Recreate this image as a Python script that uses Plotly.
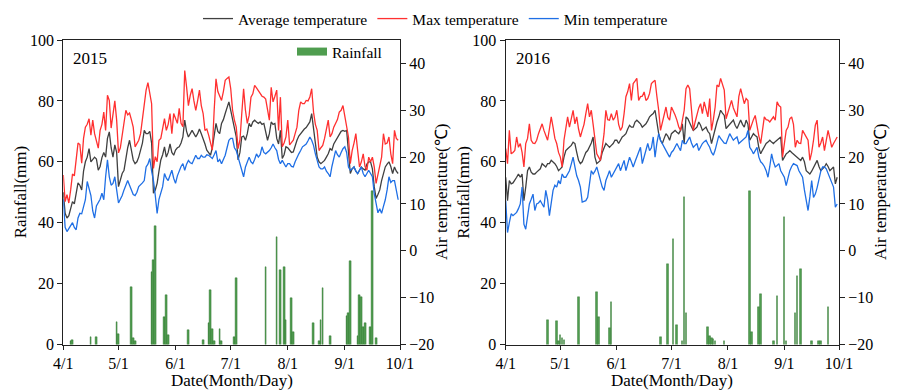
import plotly.graph_objects as go

W, H = 898, 392

# ---------------- data ----------------
month_ticks = [0, 30, 61, 91, 122, 153, 183]
month_labels = ["4/1", "5/1", "6/1", "7/1", "8/1", "9/1", "10/1"]

max_2015 = [16.2, 10.5, 12, 10.2, 13, 16.4, 16, 20, 23, 22.7,
            18.7, 24, 26.4, 27, 28.2, 24.7, 27.9, 25, 23.6, 21.9,
            25.7, 27, 29.6, 25.7, 33.2, 32.1, 26.2, 29, 32, 27.9,
            20.9, 22, 25, 28, 30, 29, 29.4, 28, 26.4, 22.2,
            23, 23.6, 25, 27.9, 31, 34.3, 35.9, 34, 31.4, 17.6,
            20.1, 19, 23.6, 24, 26, 28.2, 25.7, 27, 29.3, 25,
            29.3, 28, 27.2, 30.4, 27.2, 26.5, 38.5, 35, 31, 33.2,
            34.6, 32, 30, 32, 34.3, 31, 29.3, 25.7, 26, 24.7,
            23, 21.5, 30, 36.7, 34, 32.8, 32.1, 34, 36.4, 36.8,
            37.1, 34.6, 30, 27.9, 26.4, 21.8, 23.6, 29.3, 34.6, 30,
            27.2, 28.9, 32.8, 33.5, 35.3, 34.8, 34.3, 33.6, 33, 32.8,
            32.4, 30, 27.9, 34.9, 31.8, 33, 34.3, 25.7, 32.8, 22.2,
            23, 24.3, 27.9, 22.6, 23, 23.6, 25, 26.4, 30, 31.8,
            31.4, 31.4, 32.1, 32, 32.8, 34.6, 29.6, 27, 25.7, 21.4,
            22, 22.5, 24, 25.7, 27.9, 24.3, 25, 26.4, 27.2, 28,
            29.6, 30, 31, 28.6, 26, 24.3, 18.6, 21.4, 23, 25,
            21.4, 17.9, 19, 20.7, 18, 17.2, 20, 19, 20, 17.9,
            14.4, 16.5, 18, 20, 25, 22.8, 23, 24.3, 20.7, 18.6,
            25.7, 24, 23.6]

avg_2015 = [12.5, 8, 7, 7.5, 9, 10.5, 10, 12, 14.5, 14,
            13, 17, 19, 20, 21.8, 19, 19.4, 20, 19.6, 17.2,
            18, 19.9, 21, 20, 24, 25.4, 22, 20, 22.6, 21,
            13.7, 15, 16.5, 17.2, 20, 22, 23.6, 21, 19.4, 18.6,
            19, 20, 21.5, 23, 25.7, 25, 25, 25.5, 23, 12.3,
            13, 14.4, 17, 19.4, 20.5, 22.2, 20, 21, 22.8, 21,
            20.4, 21.5, 22, 22.2, 23, 24.3, 27.9, 25.5, 24.3, 25,
            25.7, 25, 24.3, 25, 26, 25, 24, 22.8, 21.5, 21,
            20.4, 22, 25, 27.2, 25.5, 25, 27.2, 28, 29.3, 30.5,
            31.8, 30, 28.2, 26, 24.3, 19.4, 21, 24.3, 24.5, 23.6,
            25, 27.2, 26.5, 27.5, 27.9, 27.5, 27.2, 27.5, 27, 27.2,
            25.5, 23.6, 25, 27.5, 27, 27.2, 24, 22.8, 25.7, 19.7,
            20.5, 22.2, 22, 21.4, 21, 21.1, 22.5, 23.6, 24.5, 25,
            25.7, 26, 26.3, 26.8, 27.5, 29.3, 25.7, 23, 20, 19,
            18.6, 19, 19.3, 20, 20.7, 21.8, 21.5, 22.8, 23.5, 24.3,
            25, 25.5, 25.7, 25.5, 25.7, 21.4, 16.5, 17.5, 17.9, 17,
            16.5, 17.2, 17.9, 17.5, 17.2, 18.5, 19, 19, 17.5, 13.7,
            11.2, 12, 13, 15, 16.5, 17.9, 18.5, 19, 18, 16.5,
            17.9, 17, 16.5]

min_2015 = [11, 5, 4.1, 4.8, 5.5, 6, 5, 4.5, 7, 8,
            7.9, 9.5, 10.9, 14.8, 13, 11.8, 8.5, 7, 9.6, 10.2,
            11, 12.3, 10.9, 15.8, 19.4, 15.8, 14, 14.4, 15.8, 13,
            10.2, 11, 11.8, 13, 14, 15, 14, 13, 12, 11.8,
            12.5, 13.7, 14, 14.5, 15, 17.9, 18.5, 19.7, 17, 15,
            11.8, 8, 11, 12.5, 13.7, 16.5, 15.5, 15, 16, 17.2,
            15.5, 14.4, 16, 17.2, 18, 18.6, 17.2, 18.5, 19.3, 18.8,
            18.6, 19.5, 20.4, 19.7, 19.7, 20.4, 20, 20, 20.5, 20.4,
            20, 19.7, 20.5, 21.4, 19, 19.5, 18.6, 19.5, 20.4, 22,
            23.6, 24, 24, 22, 21.4, 20, 18.6, 17.2, 15.8, 17.9,
            19, 20, 19, 18.6, 19.5, 20.7, 20, 20.5, 22.2, 21,
            20.7, 21, 21.4, 22, 22.8, 22, 21.4, 19.5, 18.6, 19.3,
            18.5, 17.9, 18.6, 18.6, 18, 17.9, 19, 20, 20.7, 21.4,
            22.2, 22.5, 22.8, 23.5, 24.3, 23.6, 22.5, 20.7, 19, 17.9,
            17.5, 17.5, 17.9, 17, 16.5, 15.8, 18, 20, 21.4, 20.5,
            20, 21, 21.8, 22.2, 21, 17.9, 17.2, 17.5, 17.9, 17,
            16.5, 17.2, 17.9, 16.5, 15.8, 16.5, 17.2, 16.5, 15.8, 12.2,
            10.2, 8.1, 9, 8, 9.5, 10.9, 13, 15.8, 14.6, 15,
            15, 13, 10.9]

max_2016 = [21.8, 18.6, 25.7, 20.7, 21, 21.4, 24.3, 22.1, 22.9, 21,
            17.9, 22.9, 24, 27.1, 23.6, 23, 22.9, 23.6, 25, 26,
            27.1, 25.7, 24.5, 23.6, 26, 28.6, 26.4, 24, 22.9, 21,
            20, 17.9, 23.6, 26, 28.6, 26.4, 28, 30, 27.1, 28.6,
            26, 24.3, 25.7, 27, 29.3, 31.4, 28.6, 30, 27, 24.3,
            20.7, 20, 19.3, 22, 25, 30, 28, 27.9, 29.3, 27.9,
            28.5, 30, 27, 25.7, 26.4, 29.3, 32.9, 34, 35.7, 32.1,
            35.7, 36.2, 36.8, 32.1, 32.9, 33, 33.9, 32.1, 32.5, 33.6,
            35.7, 36.1, 36.4, 33, 30, 25.7, 27.5, 29.3, 30.7, 28.5,
            27.9, 30.7, 30, 29, 27.9, 26.5, 25.7, 28, 30, 34.6,
            35.4, 34.6, 29.3, 25.7, 27.5, 29.3, 30.5, 31.4, 29.3, 31.8,
            30, 28.6, 32.5, 25.7, 28, 30.7, 35.4, 35, 36.8, 35.5,
            34.3, 28.2, 29.5, 30.7, 32.1, 30.5, 29.3, 28.6, 32.9, 34.6,
            33, 31.4, 32.5, 32.1, 25.7, 27.1, 28, 28.9, 26.4, 24.5,
            22.9, 25.7, 28.6, 28, 27.9, 27.5, 28, 28.6, 27.9, 31.8,
            31, 30.7, 20, 23, 25.7, 26.4, 28.2, 28.6, 27, 22.1,
            23.6, 23, 22.9, 25.7, 25, 24, 23.6, 19.3, 21, 23.6,
            26.8, 27.9, 22.1, 23, 24.3, 21.4, 23.6, 25.7, 24, 22.1,
            22.9, 23.5, 24.3]

avg_2016 = [15.7, 10.7, 15, 14.3, 14.5, 15, 15.7, 16.4, 15.7, 16.4,
            10.7, 13.6, 17.1, 17.9, 16.8, 16.4, 16.4, 16.8, 17.1, 17.5,
            18.6, 18.2, 17.9, 18.6, 18.6, 19.3, 19, 18.6, 18, 17.1,
            17.5, 17.9, 20, 21.4, 21.8, 22.1, 22.5, 23.2, 22.9, 21,
            19.3, 18.6, 19, 20, 21, 21.4, 22.1, 23, 24.3, 20,
            18.6, 19, 19.3, 21, 22.1, 22.9, 22.5, 22.1, 22.5, 22.9,
            23.6, 23.6, 22.9, 23.5, 24.3, 24.6, 25, 26, 26.8, 26.4,
            26.4, 27.5, 27.9, 27.5, 27.1, 26.4, 26.8, 27.1, 27.8, 28.6,
            29, 29.3, 30, 27.1, 25, 23.6, 22.9, 24, 25, 24.5,
            23.6, 25, 25.3, 25.7, 25.3, 25, 25.7, 27.1, 22.9, 28.6,
            28.2, 27.5, 26.5, 25.7, 26, 26.4, 27.5, 26.8, 25.7, 26,
            26.4, 25.5, 25, 22.9, 24.5, 25.7, 27.5, 28.6, 30, 29.4,
            28.9, 26.1, 26.5, 27.1, 27.5, 27.9, 26.8, 26.1, 27, 27.9,
            27, 26.4, 27.9, 27, 23.6, 24.5, 25, 24.6, 24.3, 22,
            20.7, 21.5, 22.1, 22.9, 23.2, 23.6, 23.2, 22.9, 23.3, 23.6,
            24, 24.3, 19.3, 20, 20.7, 21, 21.4, 21, 20.7, 20.3,
            20, 19.6, 19.3, 20, 19, 17.1, 16.8, 16.4, 17, 17.9,
            18.5, 19.3, 18, 17.1, 17.5, 17.9, 18.6, 18, 17.1, 17.5,
            17.9, 14.3, 15.7]

min_2016 = [10.7, 3.9, 6, 7.9, 7.5, 7.8, 8.2, 9, 10, 13.6,
            5.7, 4.6, 7, 10, 11, 12.1, 8.6, 10, 10.2, 10.7,
            10, 9.3, 12.9, 11, 7.5, 10, 12.9, 14, 13.6, 15,
            14.3, 16.4, 15.7, 15.7, 16.5, 17.1, 18.5, 20, 17.9, 16,
            15, 13.6, 10.4, 10.5, 10.7, 11.4, 14, 17.1, 16.4, 17,
            17.9, 16.4, 15, 13.6, 12.9, 15, 16, 17.1, 15.7, 16.5,
            17.1, 18, 18.6, 17.1, 18, 19.3, 17.1, 18.5, 20, 19,
            17.9, 19, 20, 21, 22.1, 18.6, 20, 21.5, 22.9, 21.4,
            22, 24.3, 20, 23, 25, 23.6, 22.8, 22.1, 21.4, 20.7,
            20, 21, 21.4, 22.2, 22.9, 22.1, 21.4, 23.6, 22.9, 22.9,
            23.5, 24.3, 23, 22.1, 22.5, 22.9, 21.4, 22.2, 22.9, 23.3,
            23.6, 22.8, 22.1, 21, 20.4, 21.5, 22.9, 24.6, 24, 23.6,
            23, 22.9, 24, 25, 24.3, 23.6, 24, 24.3, 22.9, 23.2,
            23.5, 24, 24.3, 25.7, 22.1, 21.5, 20.7, 21.4, 22.1, 20,
            19, 18.6, 18, 17.1, 15.7, 18, 20.7, 19, 17.9, 18.2,
            18.6, 17.1, 16.5, 15.7, 13.9, 15.5, 17.1, 18, 18.6, 18.4,
            18.2, 17.1, 16.5, 15.7, 13, 10.7, 8.6, 11.5, 15, 11.4,
            12.1, 13.5, 15.7, 17, 17.9, 17.9, 17.5, 16.5, 15.7, 14.5,
            13.6, 9.3, 10]

rain_days_2015 = [4, 5, 15, 18, 29, 30, 37, 38, 39, 48, 49, 50, 55, 56, 57, 68, 76,
                  79, 80, 81, 82, 85, 86, 93, 94, 110, 116, 118, 120, 121, 124, 125,
                  136, 139, 140, 141, 145, 154, 155, 156, 160, 161, 162, 163, 164,
                  167, 168, 170]
rain_mm_2015 = [1.0, 1.5, 2.5, 2.5, 7.3, 3.3, 19, 2, 1, 23.7, 27.9, 39, 8.9, 16.2, 3, 4.7, 1.5,
                7.1, 18, 5.1, 1, 5.2, 1, 2.5, 22, 25.5, 35.3, 24.4, 25.5, 7.9, 15.3, 4.2,
                7.1, 1, 7.9, 18.6, 2.8, 9.3, 10.4, 27.5, 2.7, 16.4, 15.7, 5.9, 6.9,
                5.7, 50.5, 2]

rain_days_2016 = [23, 28, 29, 30, 31, 32, 40, 50, 51, 57, 58, 85, 89, 92, 94, 97, 98, 99,
                  111, 112, 113, 114, 115, 120, 134, 135, 139, 140, 147, 149, 153, 154,
                  159, 160, 162, 168, 172, 173, 177]
rain_mm_2016 = [8.2, 7.6, 1, 3.1, 2, 1.5, 15.6, 17.4, 8.9, 5.4, 14, 2.5, 26.4, 34.6, 6.4, 1, 48.5, 10.3,
                5.6, 2.7, 2.3, 1.7, 1, 1.3, 50.3, 4.2, 12.3, 16.5, 1.3, 16, 41.8, 1,
                10.2, 22.6, 24.8, 1.3, 1, 1, 12.3]

# ---------------- styling ----------------
FONT = "Liberation Serif"
C_AVG, C_MAX, C_MIN = "#404040", "#ff3030", "#1f6fe5"
C_RAIN, C_RAIN_EDGE = "#4f9d4f", "#2b6e2b"
AXC = "#222222"


def px_x(p):
    return p / W


def px_y(p):
    return 1 - p / H


panels = [
    dict(year="2015", mx=max_2015, av=avg_2015, mn=min_2015,
         rd=rain_days_2015, rm=rain_mm_2015, x0=63.3, x1=400.0, xa="x", ya="y", ya2="y2"),
    dict(year="2016", mx=max_2016, av=avg_2016, mn=min_2016,
         rd=rain_days_2016, rm=rain_mm_2016, x0=505.7, x1=839.0, xa="x2", ya="y3", ya2="y4"),
]
TOP, BOT = 40.0, 344.5

fig = go.Figure()
for i, p in enumerate(panels):
    first = i == 0
    fig.add_trace(go.Bar(x=p["rd"], y=p["rm"], width=0.85, xaxis=p["xa"], yaxis=p["ya"],
                         marker=dict(color=C_RAIN, line=dict(color=C_RAIN_EDGE, width=0.4)),
                         showlegend=False, name="Rainfall"))
    for key, name, col in [("av", "Average temperature", C_AVG),
                           ("mx", "Max temperature", C_MAX),
                           ("mn", "Min temperature", C_MIN)]:
        ys = p[key]
        fig.add_trace(go.Scatter(x=list(range(len(ys))), y=ys, mode="lines", name=name,
                                 line=dict(color=col, width=1.3), xaxis=p["xa"], yaxis=p["ya2"],
                                 showlegend=first, legend="legend"))

# rainfall legend swatch (legend2)
fig.add_trace(go.Scatter(x=[None], y=[None], mode="lines", name="Rainfall",
                         line=dict(color=C_RAIN, width=8), xaxis="x", yaxis="y",
                         legend="legend2", showlegend=True))

tickfont = dict(family=FONT, size=16, color="black")
common_x = dict(range=[0, 183], tickvals=month_ticks, ticktext=month_labels, showline=True,
                linecolor=AXC, linewidth=1.3, mirror=True, ticks="outside", ticklen=4,
                tickcolor=AXC, tickwidth=1.3, showgrid=False, zeroline=False, tickfont=tickfont,
                automargin=False)
common_yl = dict(range=[0, 100], dtick=20, showline=True, linecolor=AXC, linewidth=1.3,
                 mirror=True, ticks="outside", ticklen=5, tickcolor=AXC, tickwidth=1.3,
                 showgrid=False, zeroline=False, tickfont=tickfont, automargin=False)
common_yr = dict(range=[-20, 45], tickvals=[-20, -10, 0, 10, 20, 30, 40], side="right",
                 showline=True, linecolor=AXC, linewidth=1.3, ticks="outside", ticklen=5,
                 tickcolor=AXC, tickwidth=1.3, showgrid=False, zeroline=False, tickfont=tickfont,
                 automargin=False)

dom_y = [px_y(BOT), px_y(TOP)]
p1, p2 = panels
fig.update_layout(
    width=W, height=H, margin=dict(l=0, r=0, t=0, b=0, autoexpand=False),
    paper_bgcolor="white", plot_bgcolor="white", bargap=0,
    font=dict(family=FONT, size=16, color="black"),
    xaxis=dict(domain=[px_x(p1["x0"]), px_x(p1["x1"])], anchor="y", **common_x),
    yaxis=dict(domain=dom_y, anchor="x", **common_yl),
    yaxis2=dict(overlaying="y", anchor="x", **common_yr),
    xaxis2=dict(domain=[px_x(p2["x0"]), px_x(p2["x1"])], anchor="y3", **common_x),
    yaxis3=dict(domain=dom_y, anchor="x2", **common_yl),
    yaxis4=dict(overlaying="y3", anchor="x2", **common_yr),
    legend=dict(orientation="h", x=px_x(198), y=px_y(2), xanchor="left", yanchor="top",
                font=dict(family=FONT, size=15.5, color="black"), bgcolor="rgba(0,0,0,0)",
                itemwidth=30, tracegroupgap=0),
    legend2=dict(x=px_x(292), y=px_y(35), xanchor="left", yanchor="top",
                 font=dict(family=FONT, size=15.5, color="black"), bgcolor="rgba(0,0,0,0)"),
)

ann = []
for p in panels:
    ann.append(dict(text=p["year"], x=px_x(p["x0"] + 8), y=px_y(58), xref="paper", yref="paper",
                    xanchor="left", yanchor="middle", showarrow=False,
                    font=dict(family=FONT, size=17, color="black")))
    ann.append(dict(text="Rainfall(mm)", x=px_x(p["x0"] - 43), y=px_y(192), xref="paper", yref="paper",
                    xanchor="center", yanchor="middle", textangle=-90, showarrow=False,
                    font=dict(family=FONT, size=17, color="black")))
    ann.append(dict(text="Air temperature(\u2103)", x=px_x(p["x1"] + 41), y=px_y(192), xref="paper",
                    yref="paper", xanchor="center", yanchor="middle", textangle=-90, showarrow=False,
                    font=dict(family=FONT, size=17, color="black")))
    ann.append(dict(text="Date(Month/Day)", x=px_x((p["x0"] + p["x1"]) / 2), y=px_y(380), xref="paper",
                    yref="paper", xanchor="center", yanchor="middle", showarrow=False,
                    font=dict(family=FONT, size=17, color="black")))
fig.update_layout(annotations=ann)

fig.write_html("out.html")
